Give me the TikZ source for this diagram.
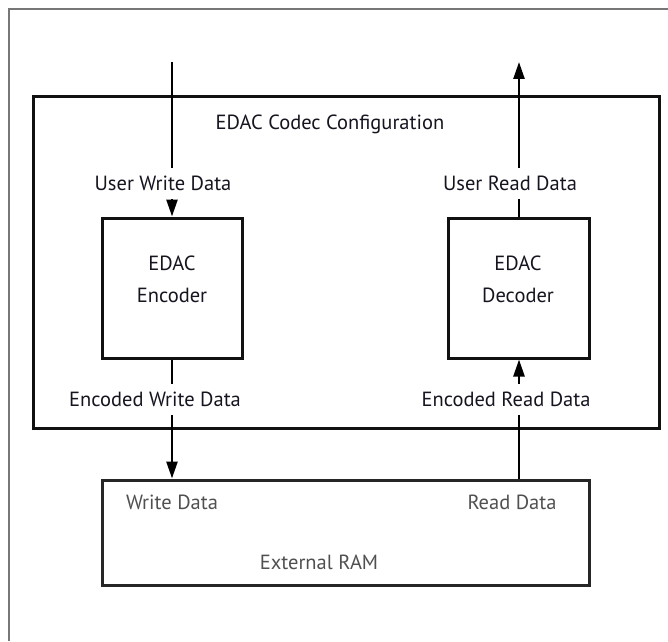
\documentclass[tikz,border=0pt]{standalone}
\usepackage{fontspec}
\setmainfont{PT Sans}
\usetikzlibrary{arrows.meta}
\definecolor{txt}{HTML}{15151F}
\definecolor{ramtxt}{HTML}{505050}
\definecolor{framegray}{HTML}{777777}
\definecolor{boxline}{HTML}{111111}
\tikzset{
  box/.style={draw=boxline, line width=3pt, rectangle, inner sep=0pt},
  lbl/.style={text=txt, font=\fontsize{20.5}{32}\selectfont, inner sep=0pt, minimum height=31pt},
  ramlbl/.style={text=ramtxt, font=\fontsize{20.5}{24}\selectfont, inner sep=0pt},
  wire/.style={draw=black, line width=2.5pt},
  tip/.style={-{Triangle[width=11pt,length=17pt]}}
}
\begin{document}
\begin{tikzpicture}[x=1pt,y=1pt]
\useasboundingbox (0,0) rectangle (668,641);
% partial outer frame
\draw[framegray, line width=1.5pt] (9,0) -- (9,632) -- (668,632);
% boxes
\node[box, minimum width=626pt, minimum height=331pt] (cfg) at (346,378.5) {};
\node[box, minimum width=140pt, minimum height=140pt] (enc) at (172,353) {};
\node[box, minimum width=141pt, minimum height=140pt] (dec) at (519,353) {};
\node[box, draw=black!85, minimum width=487pt, minimum height=105pt] (ram) at (345.5,108.5) {};
% texts
\node[lbl] (title) at (330,517) {EDAC Codec Configuration};
\node[lbl, align=center, minimum height=0pt] (enct) at (172,362) {EDAC\\Encoder};
\node[lbl, align=center, minimum height=0pt] (dect) at (518,362) {EDAC\\Decoder};
\node[lbl] (uwd) at (163,457.5) {User Write Data};
\node[lbl] (urd) at (510,457.5) {User Read Data};
\node[lbl] (ewd) at (155,241.5) {Encoded Write Data};
\node[lbl] (erd) at (506,241.5) {Encoded Read Data};
\node[ramlbl] (wd) at (172,139) {Write Data};
\node[ramlbl] (rd) at (512,139) {Read Data};
\node[ramlbl] (ext) at (319,79) {External RAM};
% connector end points
\coordinate (inpt) at (172,579);
\coordinate (outpt) at (519,579);
% connectors
\draw[wire] (inpt) -- (inpt |- uwd.north);
\draw[wire, tip] (inpt |- uwd.south) -- (enc.north);
\draw[wire] (dec.north) -- (dec.north |- urd.south);
\draw[wire, tip] (dec.north |- urd.north) -- (outpt);
\draw[wire] (enc.south) -- (enc.south |- ewd.north);
\draw[wire, tip] (enc.south |- ewd.south) -- (ram.north -| enc.south);
\draw[wire] (ram.north -| dec.south) -- (dec.south |- erd.south);
\draw[wire, tip] (dec.south |- erd.north) -- (dec.south);
\end{tikzpicture}
\end{document}
